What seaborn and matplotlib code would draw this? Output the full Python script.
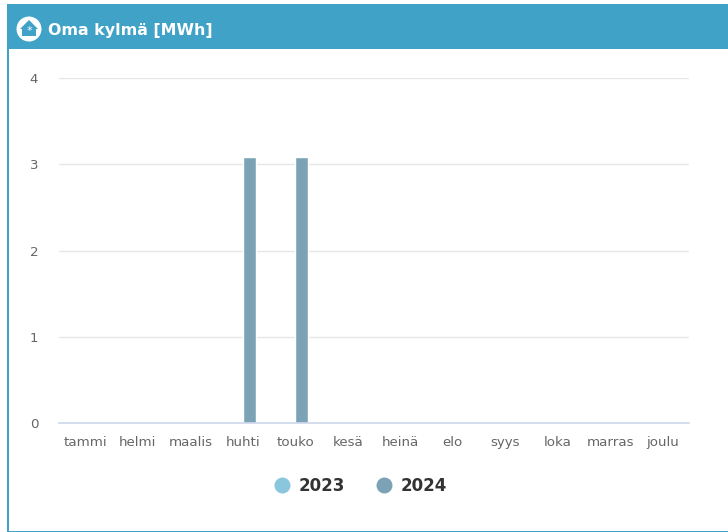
import pandas as pd
import matplotlib
matplotlib.use('Agg')
import matplotlib.pyplot as plt
import seaborn as sns
from matplotlib.font_manager import FontProperties
from matplotlib.lines import Line2D
from matplotlib.patches import Circle, Polygon, Rectangle
from matplotlib.transforms import Affine2D

# data
months = ['tammi', 'helmi', 'maalis', 'huhti', 'touko', 'kesä', 'heinä', 'elo', 'syys', 'loka', 'marras', 'joulu']
values_2023 = [0, 0, 0, 0, 0, 0, 0, 0, 0, 0, 0, 0]
values_2024 = [0, 0, 0, 3.08, 3.08, 0, 0, 0, 0, 0, 0, 0]
y_ticks = [0, 1, 2, 3, 4]
years = ['2023', '2024']
title = 'Oma kylmä [MWh]'

BLUE = '#3fa2c6'
C_2023 = '#8ac6de'
C_2024 = '#7ba3b5'

W, H = 728, 532

sns.set_theme(style='white')
plt.rcParams['font.family'] = ['DejaVu Sans']

df = pd.DataFrame({
    'month': months * 2,
    'year': [years[0]] * 12 + [years[1]] * 12,
    'value': values_2023 + values_2024,
})

fig = plt.figure(figsize=(W / 100, H / 100), dpi=100)
ax = fig.add_axes([59 / W, 1 - 423 / H, 630 / W, 345 / H])

# panel frame and header, in pixel coords
def px_rect(x, y, w, h, color):
    fig.add_artist(Rectangle((x / W, 1 - (y + h) / H), w / W, h / H, transform=fig.transFigure,
                             facecolor=color, edgecolor='none', zorder=-5))

px_rect(7, 4, 721, 45, BLUE)
px_rect(7, 49, 2, 483, BLUE)
px_rect(7, 531, 721, 1, BLUE)

def px(x, y):
    return (x / W, 1 - y / H)

# round icon with house
fig.add_artist(Circle((0, 0), 1, facecolor='white', edgecolor='none', zorder=3,
                      transform=Affine2D().scale(12.5).translate(29, H - 29)))
fig.add_artist(Polygon([px(29, 20), px(38, 29), px(36, 29), px(36, 36), px(22, 36), px(22, 29), px(20, 29)],
                       closed=True, transform=fig.transFigure, facecolor=BLUE, edgecolor='none', zorder=4))
fig.text(29 / W, 1 - 31 / H, '*', color='white', fontsize=8, ha='center', va='center', zorder=5)

title_font = FontProperties(family='DejaVu Sans', weight='bold', size=11.4)
fig.text(48 / W, 1 - 30 / H, title, color='white', fontproperties=title_font, va='center')

sns.barplot(data=df, x='month', y='value', hue='year', order=months, hue_order=years,
            palette=[C_2023, C_2024], width=0.5, gap=0, saturation=1, legend=False, ax=ax, zorder=3)

ax.set_xlim(-0.5, 11.5)
ax.set_ylim(0, 4)
ax.set_yticks(y_ticks)
ax.set_xlabel('')
ax.set_ylabel('')
ax.grid(axis='y', color='#e6e6e6', linewidth=1)
ax.set_axisbelow(True)
sns.despine(ax=ax, left=True)
ax.spines['bottom'].set_color('#ccd6eb')
ax.spines['bottom'].set_linewidth(1.2)
ax.spines['bottom'].set_zorder(4)
ax.tick_params(axis='x', length=0, pad=9.5, labelsize=9.6, labelcolor='#666666')
ax.tick_params(axis='y', length=0, pad=15, labelsize=9.6, labelcolor='#666666')

handles = [Line2D([], [], linestyle='none', marker='o', markersize=11.5, markerfacecolor=c, markeredgecolor='none')
           for c in [C_2023, C_2024]]
leg_font = FontProperties(family='DejaVu Sans', weight='bold', size=12)
leg = fig.legend(handles, years, loc='center', bbox_to_anchor=(356.5 / W, 1 - 486 / H), ncol=2, frameon=False,
                 handletextpad=0.0, columnspacing=1.33, prop=leg_font)
for t in leg.get_texts():
    t.set_color('#333333')

fig.savefig('out.png', dpi=100)
